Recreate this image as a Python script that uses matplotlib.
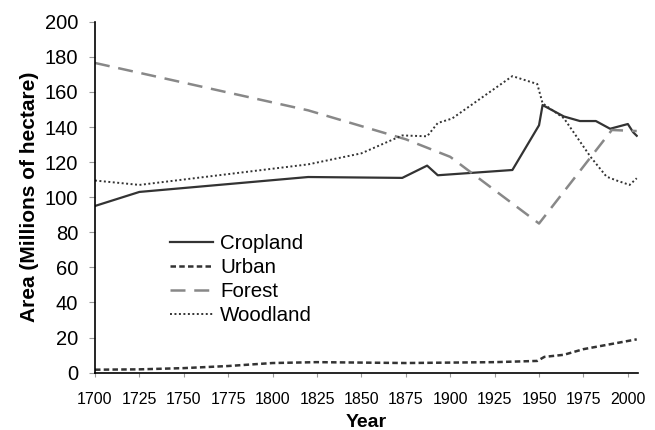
import matplotlib

matplotlib.use("Agg")
import matplotlib.pyplot as plt

plt.rcParams["font.family"] = ["Liberation Sans", "DejaVu Sans"]

crop_years = [1700, 1725, 1820, 1873, 1887, 1893, 1935, 1950, 1952, 1964, 1973, 1982, 1990, 2000, 2003, 2005]
crop_vals = [95, 103, 111.5, 111, 118, 112.5, 115.5, 141, 152.5, 146, 143.4, 143.4, 139, 141.7, 137, 135]

urban_years = [1700, 1725, 1750, 1775, 1800, 1825, 1875, 1925, 1949, 1953, 1964, 1975, 2005]
urban_vals = [1.7, 1.9, 2.6, 3.8, 5.5, 6, 5.5, 6, 6.7, 9, 10.2, 13.4, 19]

forest_years = [1700, 1820, 1875, 1900, 1950, 1991, 2005]
forest_vals = [176.5, 149.5, 133, 123, 85, 138.3, 137.7]

wood_years = [1700, 1725, 1820, 1850, 1873, 1887, 1893, 1901, 1935, 1949, 1952, 1964, 1979, 1988, 1994, 2001, 2005]
wood_vals = [109.5, 107, 118.7, 125, 135.2, 134.7, 142.3, 144.8, 169, 164.5, 153.5, 145, 123, 111.7, 109.4, 107, 110.8]

xticks = list(range(1700, 2001, 25))
yticks = list(range(0, 201, 20))

fig = plt.figure(figsize=(6.55, 4.3), dpi=100)
ax = fig.add_axes([0.145, 0.1333, 0.829, 0.8162])

ax.plot(crop_years, crop_vals, color="#333333", lw=1.6, label="Cropland")
ax.plot(urban_years, urban_vals, color="#333333", lw=1.8, ls=(0, (2.2, 1.3)), label="Urban")
ax.plot(forest_years, forest_vals, color="#888888", lw=1.8, ls=(0, (6, 3.5)), label="Forest")
ax.plot(wood_years, wood_vals, color="#333333", lw=1.4, ls=(0, (1, 1.3)), label="Woodland")

ax.set_xlim(1700, 2005.7)
ax.set_ylim(0, 200)
ax.set_xticks(xticks)
ax.set_yticks(yticks)
ax.tick_params(axis="x", labelsize=11.5, length=3, color="#999999", pad=11)
ax.tick_params(axis="y", labelsize=14.5, length=4, color="#999999", pad=8)
for s in ["top", "right"]:
    ax.spines[s].set_visible(False)
ax.spines["left"].set_linewidth(1.2)
ax.spines["bottom"].set_linewidth(1.2)

ax.set_xlabel("Year", fontsize=14, fontweight="bold", labelpad=5)
ax.set_ylabel("Area (Millions of hectare)", fontsize=15, fontweight="bold", labelpad=4)

ax.legend(loc="upper left", bbox_to_anchor=(0.138, 0.395), frameon=False, fontsize=14.75,
          handlelength=2.1, handletextpad=0.35, labelspacing=0.25, borderaxespad=0,
          borderpad=0)

fig.savefig("out.png", dpi=100)
